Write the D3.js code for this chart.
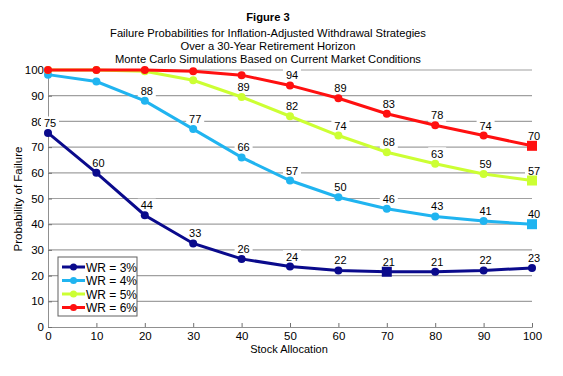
<!DOCTYPE html>
<html><head><meta charset="utf-8">
<script src="https://cdn.jsdelivr.net/npm/d3@7"></script>
<style>body{margin:0;background:#fff;} svg{display:block;font-family:Arial,"Liberation Sans",sans-serif;}</style>
</head><body>
<svg id="c" width="563" height="376"></svg>
<script>
const allocations = [0,10,20,30,40,50,60,70,80,90,100];
const wr3 = [75.5,60,43.5,32.5,26.5,23.5,22,21.5,21.5,22,23];
const wr4 = [98.2,95.5,88,77,66,57,50.5,46,43,41.2,40];
const wr5 = [100,100,99.5,96,89.5,82,74.5,68,63.5,59.5,57];
const wr6 = [100,100,100,99.5,98,94,89,83,78.5,74.5,70.5];
const wr3Labels = [75,60,44,33,26,24,22,21,21,22,23];
const wr4Labels = [null,null,88,77,66,57,50,46,43,41,40];
const wr5Labels = [null,null,null,null,89,82,74,68,63,59,57];
const wr6Labels = [null,null,null,null,null,94,89,83,78,74,70];
const seriesNames = ["WR = 3%","WR = 4%","WR = 5%","WR = 6%"];
const seriesColors = ["#0a0a8c","#20b4f0","#ccff33","#ff1010"];
const yTicks = [0,10,20,30,40,50,60,70,80,90,100];
const titleLines = ["Figure 3","Failure Probabilities for Inflation-Adjusted Withdrawal Strategies","Over a 30-Year Retirement Horizon","Monte Carlo Simulations Based on Current Market Conditions"];

const series = [
  {name:seriesNames[0], color:seriesColors[0], values:wr3, labels:wr3Labels},
  {name:seriesNames[1], color:seriesColors[1], values:wr4, labels:wr4Labels},
  {name:seriesNames[2], color:seriesColors[2], values:wr5, labels:wr5Labels},
  {name:seriesNames[3], color:seriesColors[3], values:wr6, labels:wr6Labels}
];

const svg = d3.select("#c");
const x = d3.scaleLinear().domain([0,100]).range([48,532]);
const y = d3.scaleLinear().domain([0,100]).range([327,70]);

// title
const titleY = [21,36.5,49.5,62.5];
svg.selectAll("text.title").data(titleLines).enter().append("text")
  .attr("x",268).attr("y",(d,i)=>titleY[i])
  .attr("text-anchor","middle").attr("font-size",11.2)
  .attr("font-weight",(d,i)=>i===0?"bold":"normal").attr("fill","#000").text(d=>d);

// gridlines
svg.append("g").selectAll("line").data(yTicks.filter(d=>d>0)).enter().append("line")
  .attr("x1",x(0)).attr("x2",x(100)).attr("y1",d=>y(d)).attr("y2",d=>y(d))
  .attr("stroke","#a0a0a0").attr("stroke-width",1.2);

// axes
const xAxis = d3.axisBottom(x).tickValues(allocations).tickSize(-4).tickPadding(5);
const gx = svg.append("g").attr("transform",`translate(0,${y(0)})`).call(xAxis);
gx.select(".domain").attr("stroke","#909090");
gx.selectAll(".tick line").attr("stroke","#707070");
gx.selectAll("text").attr("font-size",11.5).attr("fill","#000").attr("font-family","Arial,'Liberation Sans',sans-serif");

const yAxis = d3.axisLeft(y).tickValues(yTicks).tickSize(-4).tickPadding(4);
const gy = svg.append("g").attr("transform",`translate(${x(0)},0)`).call(yAxis);
gy.select(".domain").attr("stroke","#909090");
gy.selectAll(".tick line").attr("stroke","#707070");
gy.selectAll("text").attr("font-size",11.5).attr("fill","#000").attr("font-family","Arial,'Liberation Sans',sans-serif");

// axis labels
svg.append("text").attr("x",289).attr("y",353).attr("text-anchor","middle").attr("font-size",11).text("Stock Allocation");
svg.append("text").attr("transform","translate(22,199) rotate(-90)").attr("text-anchor","middle").attr("font-size",11.5).text("Probability of Failure");

// data labels with white boxes
const labelG = svg.append("g");
series.forEach(s=>{
  s.labels.forEach((lab,i)=>{
    if(lab===null) return;
    const lx = x(allocations[i])+2, ly = y(s.values[i])-10;
    labelG.append("rect").attr("x",lx-9).attr("y",ly-6.5).attr("width",18).attr("height",13).attr("fill","#fff");
    labelG.append("text").attr("x",lx).attr("y",ly+4).attr("text-anchor","middle").attr("font-size",11).attr("fill","#000").text(lab);
  });
});

// lines and markers (square marks the minimum)
const line = d3.line().x((d,i)=>x(allocations[i])).y(d=>y(d));
series.forEach(s=>{
  svg.append("path").attr("d",line(s.values)).attr("fill","none").attr("stroke",s.color).attr("stroke-width",3);
  const minIdx = d3.minIndex(s.values);
  s.values.forEach((v,i)=>{
    if(i===minIdx){
      svg.append("rect").attr("x",x(allocations[i])-5).attr("y",y(v)-5).attr("width",10).attr("height",10).attr("fill",s.color);
    } else {
      svg.append("circle").attr("cx",x(allocations[i])).attr("cy",y(v)).attr("r",4).attr("fill",s.color);
    }
  });
});

// legend
const lg = svg.append("g").attr("transform","translate(58,257)");
lg.append("rect").attr("width",79).attr("height",59).attr("fill","#fff").attr("stroke","#606060").attr("stroke-width",1);
series.forEach((s,i)=>{
  const ly = 10+i*13.5;
  lg.append("line").attr("x1",4).attr("x2",27).attr("y1",ly).attr("y2",ly).attr("stroke",s.color).attr("stroke-width",3);
  lg.append("circle").attr("cx",15.5).attr("cy",ly).attr("r",3.5).attr("fill",s.color);
  lg.append("text").attr("x",28).attr("y",ly+4.5).attr("font-size",12).attr("fill","#000").text(s.name);
});
</script>
</body></html>
